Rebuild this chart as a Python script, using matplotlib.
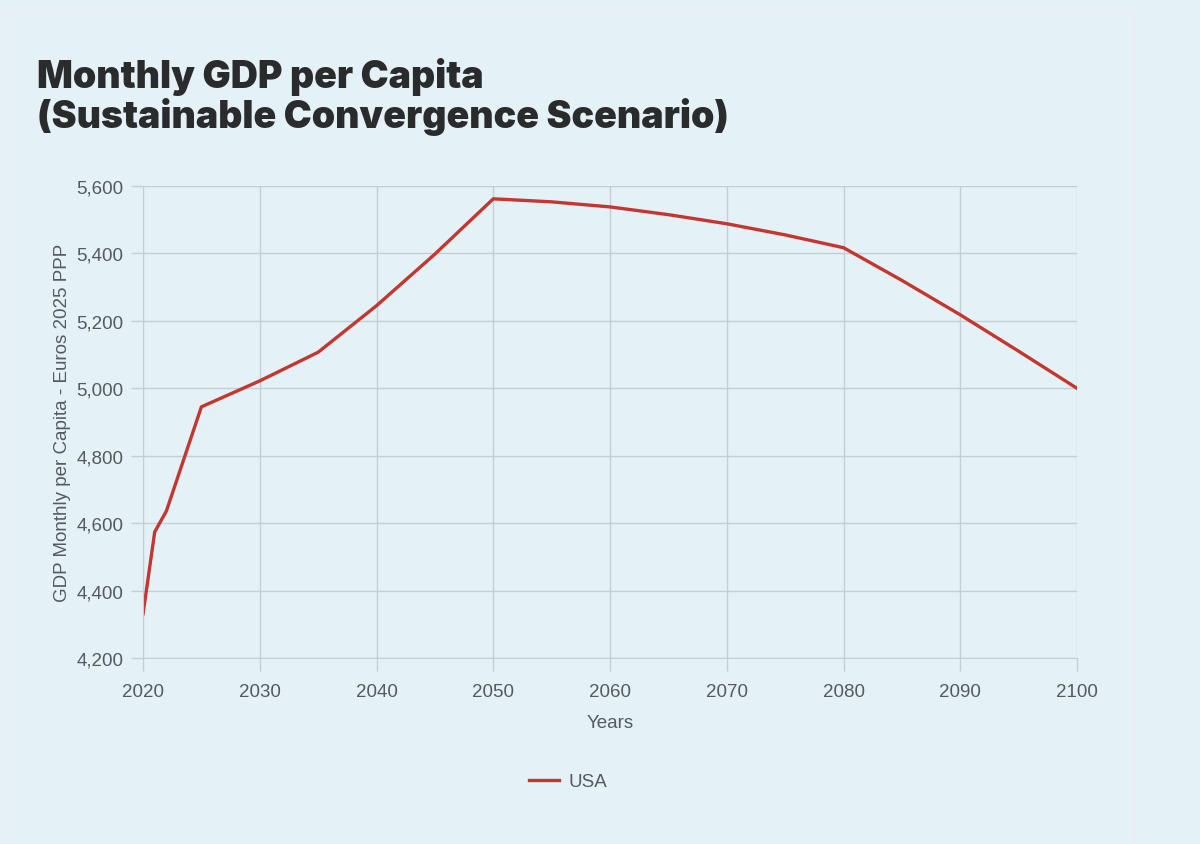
import matplotlib.pyplot as plt
from matplotlib.patches import Rectangle
from matplotlib.ticker import FuncFormatter, MultipleLocator

years = [2020, 2021, 2022, 2025, 2030, 2035, 2040, 2045, 2050, 2055, 2060, 2065,
         2070, 2075, 2080, 2085, 2090, 2095, 2100]
usa_gdp = [4331, 4574, 4636, 4945, 5022, 5107, 5245, 5398, 5562, 5553, 5538, 5515,
           5488, 5455, 5417, 5320, 5218, 5110, 5000]

bg = '#e4f1f6'
grid_col = '#c3ced5'
text_col = '#555a5e'
line_col = '#c4362f'

plt.rcParams['font.family'] = ['Liberation Sans', 'DejaVu Sans']

fig = plt.figure(figsize=(12, 8.45), dpi=100, facecolor=bg)
# faint card border
fig.patches.append(Rectangle((0.004, -0.01), 0.942, 0.994, transform=fig.transFigure,
                             fill=False, edgecolor='#eceef0', linewidth=1.2))

ax = fig.add_axes([0.1192, 0.2201, 0.7783, 0.5586])
ax.set_facecolor(bg)
ax.plot(years, usa_gdp, color=line_col, linewidth=2.4, label='USA')

ax.set_xlim(2020, 2100)
ax.set_ylim(4200, 5600)
ax.xaxis.set_major_locator(MultipleLocator(10))
ax.yaxis.set_major_locator(MultipleLocator(200))
ax.yaxis.set_major_formatter(FuncFormatter(lambda v, p: f'{v:,.0f}'))
ax.grid(True, color=grid_col, linewidth=1.0)
ax.set_axisbelow(True)
for s in ax.spines.values():
    s.set_color(grid_col)
ax.spines['top'].set_visible(False)
ax.spines['right'].set_visible(False)
ax.tick_params(colors=text_col, labelsize=13.5, length=9, width=1.0, pad=5)
ax.tick_params(axis='both', color=grid_col)
ax.tick_params(axis='x', pad=9)

ax.set_xlabel('Years', fontsize=13.5, color=text_col, labelpad=10)
ax.set_ylabel('GDP Monthly per Capita - Euros 2025 PPP', fontsize=13.5,
              color=text_col, labelpad=4)

fig.text(0.031, 0.931, 'Monthly GDP per Capita\n(Sustainable Convergence Scenario)',
         fontsize=27, fontweight='black', color='#2a2b2d', family=['Inter', 'DejaVu Sans'],
         va='top', ha='left', linespacing=1.06)

ax.legend(loc='center', bbox_to_anchor=(0.455, -0.262), frameon=False, fontsize=13.5,
          labelcolor=text_col, handlelength=1.6, handletextpad=0.5)

fig.savefig('out.png', dpi=100, facecolor=bg)
